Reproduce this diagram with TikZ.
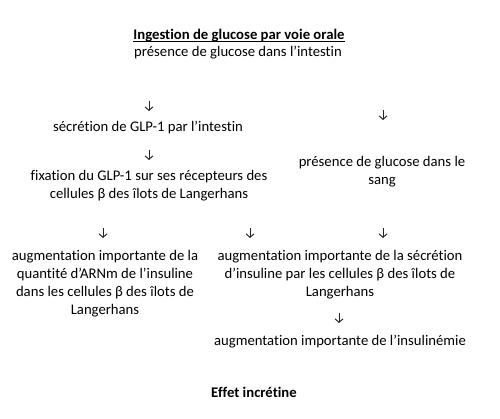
\documentclass[tikz,border=0pt]{standalone}
\usepackage{fontspec}
\setmainfont{Carlito}[RawFeature={-liga}]
\usetikzlibrary{arrows.meta}
\tikzset{
  txt/.style={inner sep=0pt, align=center, font=\fontsize{14.7}{18}\selectfont},
  flow/.style={-{Straight Barb[length=3.5pt,width=8pt,line width=1pt]}, line width=1pt, black!85},
}
\begin{document}
\begin{tikzpicture}[x=1pt,y=-1pt]
\useasboundingbox (0,0) rectangle (500,419);
\node[txt, font=\fontsize{14.7}{18}\selectfont\bfseries] (title) at (239,36) {Ingestion de glucose par voie orale};
\draw[line width=0.8pt] ([yshift=-1.8pt]title.base west) -- ([yshift=-1.8pt]title.base east);
\node[txt] (intestin) at (238,53) {présence de glucose dans l’intestin};
\node[txt] (secretion) at (148,128) {sécrétion de GLP-1 par l’intestin};
\node[txt] (fixation) at (149,186) {fixation du GLP-1 sur ses récepteurs des\\cellules β des îlots de Langerhans};
\node[txt] (sang) at (382,172) {présence de glucose dans le\\sang};
\node[txt] (arnm) at (105,283.5) {augmentation importante de la\\quantité d’ARNm de l’insuline\\dans les cellules β des îlots de\\Langerhans};
\node[txt] (secr2) at (340,275) {augmentation importante de la sécrétion\\d’insuline par les cellules β des îlots de\\Langerhans};
\node[txt] (insul) at (340,342) {augmentation importante de l’insulinémie};
\node[txt, font=\fontsize{14.7}{18}\selectfont\bfseries] (effet) at (254,392) {Effet incrétine};
\coordinate (a1s) at (149,101); \coordinate (a1e) at (149,111);
\coordinate (a2s) at (383,110); \coordinate (a2e) at (383,120);
\coordinate (a3s) at (149,150); \coordinate (a3e) at (149,160);
\coordinate (a4s) at (103,228); \coordinate (a4e) at (103,238);
\coordinate (a5s) at (250,228); \coordinate (a5e) at (250,238);
\coordinate (a6s) at (383,228); \coordinate (a6e) at (383,238);
\coordinate (a7s) at (339,313); \coordinate (a7e) at (339,323);
\draw[flow] (a1s) -- (a1e);
\draw[flow] (a2s) -- (a2e);
\draw[flow] (a3s) -- (a3e);
\draw[flow] (a4s) -- (a4e);
\draw[flow] (a5s) -- (a5e);
\draw[flow] (a6s) -- (a6e);
\draw[flow] (a7s) -- (a7e);
\end{tikzpicture}
\end{document}
